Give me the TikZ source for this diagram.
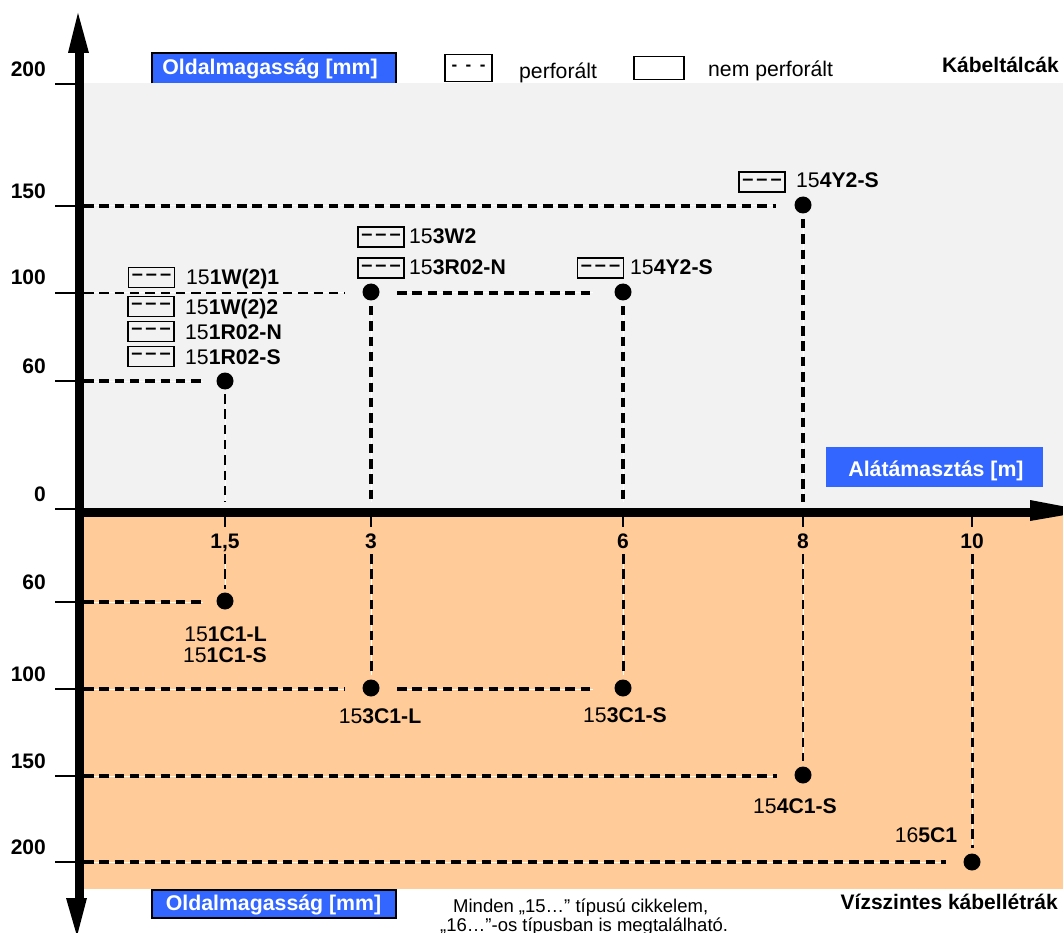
\documentclass[tikz,border=0pt]{standalone}
\usepackage{fontspec}
\setmainfont{Liberation Sans}
\definecolor{graybg}{HTML}{F2F2F2}
\definecolor{orangebg}{HTML}{FFCC99}
\definecolor{bluebox}{HTML}{3366FF}
\tikzset{
 lab/.style={font=\fontsize{21.2}{24}\selectfont,inner sep=0pt,anchor=base west},
 axnum/.style={font=\bfseries\fontsize{21}{24}\selectfont,inner sep=0pt,anchor=base},
 dot/.style={circle,fill=black,minimum size=17pt,inner sep=0pt},
 perfbox/.style={draw=black,line width=1.6pt,minimum width=46pt,minimum height=20pt,inner sep=0pt,font=\bfseries\fontsize{20}{20}\selectfont},
 bluelab/.style={text=white,font=\bfseries\fontsize{21.3}{24}\selectfont,inner sep=0pt},
 guide/.style={line width=#1,dash pattern=on 9.5pt off 5.8pt},
 guide/.default=3pt,
 tick/.style={line width=1.4pt},
 axis/.style={line width=9pt},
 tip/.style={fill=black},
}
\newcommand{\pb}[2]{\node[perfbox] at (#1,#2) {\raisebox{-1.5pt}{–\kern3pt–\kern3pt–}};}
\newcommand{\gl}[2]{\draw[white,line width=1pt] #2;\draw[guide=#1] #2;}
\begin{document}
\begin{tikzpicture}[x=1pt,y=-1pt]
\useasboundingbox (0,0) rectangle (1063,933);
\fill[graybg] (83,83) rectangle (1063,508);
\fill[orangebg] (83,512) rectangle (1063,889);
% nodes
\node[dot] (d60) at (225,381) {};
\node[dot] (d100a) at (371,292) {};
\node[dot] (d100b) at (623,292) {};
\node[dot] (d150) at (803,205) {};
\node[dot] (o60) at (225,601) {};
\node[dot] (o100a) at (371,688) {};
\node[dot] (o100b) at (623,688) {};
\node[dot] (o150) at (803,775) {};
\node[dot] (o200) at (972,862) {};
\coordinate (a60) at (84,381);
\coordinate (a100) at (84,293);
\coordinate (a150) at (84,206);
\coordinate (oa60) at (84,602);
\coordinate (oa100) at (84,689);
\coordinate (oa150) at (84,776);
\coordinate (oa200) at (84,862);
\coordinate (e150) at (776,206);
\coordinate (e100) at (345,293);
\coordinate (e60) at (203,381);
\coordinate (s100) at (397,293);
\coordinate (t100) at (593,293);
\coordinate (oe60) at (203,602);
\coordinate (oe100) at (345,689);
\coordinate (os100) at (397,689);
\coordinate (ot100) at (593,689);
\coordinate (oe150) at (777,776);
\coordinate (oe200) at (946,862);
\coordinate (b15) at (225,502);
\coordinate (b3) at (371,502);
\coordinate (b6) at (623,502);
\coordinate (b8) at (803,502);
\coordinate (l15) at (225,554);
\coordinate (l3) at (371,554);
\coordinate (l6) at (623,554);
\coordinate (l8) at (803,554);
\coordinate (l10) at (972,554);
% dashed guides
\gl{3.2pt}{(a150) -- (e150)}
\gl{2.6pt}{(a100) -- (e100)}
\gl{3.2pt}{(s100) -- (t100)}
\gl{3.2pt}{(a60) -- (e60)}
\gl{3.2pt}{(oa60) -- (oe60)}
\gl{3.2pt}{(oa100) -- (oe100)}
\gl{3.2pt}{(os100) -- (ot100)}
\gl{3.2pt}{(oa150) -- (oe150)}
\gl{3.2pt}{(oa200) -- (oe200)}
\gl{2.4pt}{([yshift=-13pt]d60.center) -- (b15)}
\gl{3.8pt}{([yshift=-14pt]d100a.center) -- (b3)}
\gl{3.4pt}{([yshift=-14pt]d100b.center) -- (b6)}
\gl{3.8pt}{([yshift=-14pt]d150.center) -- (b8)}
\gl{2.8pt}{(l15) -- ([yshift=12pt]o60.center)}
\gl{3pt}{(l3) -- ([yshift=13pt]o100a.center)}
\gl{3pt}{(l6) -- ([yshift=13pt]o100b.center)}
\gl{2.8pt}{(l8) -- ([yshift=14pt]o150.center)}
\gl{3pt}{(l10) -- ([yshift=14pt]o200.center)}
% ticks
\foreach \y in {84,206,293,381,509,602,689,776,862}{\draw[tick] (55,\y) -- (76,\y);}
\foreach \x in {225,371,623,803,972}{\draw[tick] (\x,512) -- (\x,527);}
% axes
\draw[axis,draw=black] (79.5,50) -- (79.5,900);
\draw[axis,draw=black] (75,512.5) -- (1035,512.5);
\fill[tip] (78,13) -- (89,53) -- (68,53) -- cycle;
\fill[tip] (77,936) -- (66,898) -- (87,898) -- cycle;
\fill[tip] (1030,500) -- (1088,511) -- (1030,521) -- cycle;
% axis numbers
\node[axnum,anchor=base east] (n200) at (46,77) {200};
\node[axnum,anchor=base east] (n150) at (46,199) {150};
\node[axnum,anchor=base east] (n100) at (46,285) {100};
\node[axnum,anchor=base east] (n60) at (46,373) {60};
\node[axnum,anchor=base east] (n0) at (46,501) {0};
\node[axnum,anchor=base east] (m60) at (46,589) {60};
\node[axnum,anchor=base east] (m100) at (46,681) {100};
\node[axnum,anchor=base east] (m150) at (46,768) {150};
\node[axnum,anchor=base east] (m200) at (46,854) {200};
\node[axnum] (x15) at (225,548) {1,5};
\node[axnum] (x3) at (371,548) {3};
\node[axnum] (x6) at (623,548) {6};
\node[axnum] (x8) at (803,548) {8};
\node[axnum] (x10) at (972,548) {10};
% blue labels
\fill[bluebox] (152,53) rectangle (396,83);
\draw[line width=1.6pt] (152,83.5) -- (152,52.8) -- (396,52.8) -- (396,83.5);
\node[bluelab,anchor=base] (bt) at (270,74.5) {Oldalmagasság [mm]};
\node[draw=black,line width=1.6pt,fill=bluebox,minimum width=244pt,minimum height=28pt,inner sep=0pt] (bb) at (274,904) {};
\node[bluelab,anchor=base] (bbt) at (273.5,910) {Oldalmagasság [mm]};
\fill[bluebox] (826,447) rectangle (1043,487);
\node[bluelab,anchor=base] (bm) at (936,476) {Alátámasztás [m]};
% legend
\node[perfbox,minimum width=47pt,minimum height=27pt,font=\bfseries\fontsize{17}{17}\selectfont] (lg1) at (468.5,68) {\raisebox{-4pt}{-\kern8.5pt-\kern8.5pt-}};
\node[lab] (lt1) at (519,78.5) {perforált};
\node[perfbox,minimum width=50pt,minimum height=23pt] (lg2) at (659,68) {};
\node[lab] (lt2) at (708,77) {nem perforált};
\node[axnum,anchor=base east] (kt) at (1059,73) {Kábeltálcák};
\node[axnum,anchor=base east] (kl) at (1058,909.5) {Vízszintes kábellétrák};
% perforated labels
\pb{151.5}{277.5}\node[lab] at (186,285) {15\textbf{1W(2)1}};
\pb{151}{306.5}\node[lab] at (185,315) {15\textbf{1W(2)2}};
\pb{151}{331.5}\node[lab] at (185,339) {15\textbf{1R02-N}};
\pb{151}{356.5}\node[lab] at (185,364) {15\textbf{1R02-S}};
\pb{381}{237}\node[lab] at (409,244) {15\textbf{3W2}};
\pb{381}{268}\node[lab] at (409,275) {15\textbf{3R02-N}};
\pb{600.5}{268}\node[lab] at (630,275) {15\textbf{4Y2-S}};
\pb{762}{182}\node[lab] at (796,188) {15\textbf{4Y2-S}};
% orange labels
\node[lab,anchor=base] at (225.5,641) {15\textbf{1C1-L}};
\node[lab,anchor=base] at (225,662) {15\textbf{1C1-S}};
\node[lab,anchor=base] at (380,723) {15\textbf{3C1-L}};
\node[lab,anchor=base] at (625,722) {15\textbf{3C1-S}};
\node[lab,anchor=base] at (795,813) {15\textbf{4C1-S}};
\node[lab,anchor=base] at (926,842) {16\textbf{5C1}};
% note
\node[lab,font=\fontsize{18.5}{20}\selectfont] at (453,912) {Minden „15…” típusú cikkelem,};
\node[lab,font=\fontsize{18.5}{20}\selectfont] at (440,931) {„16…”-os típusban is megtalálható.};
\end{tikzpicture}
\end{document}
